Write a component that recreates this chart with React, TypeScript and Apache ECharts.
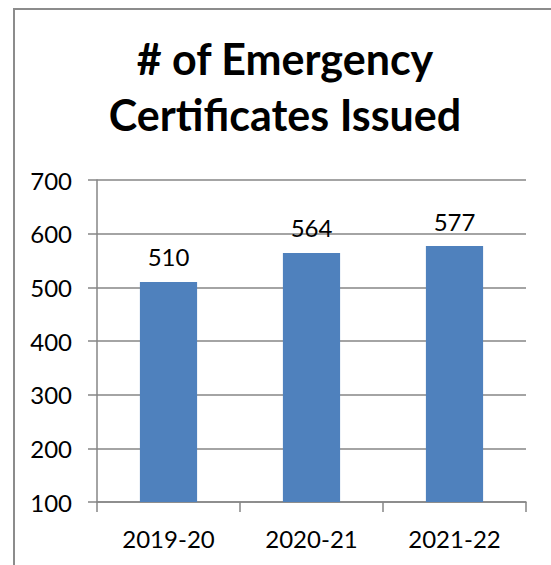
import React, { useEffect, useRef } from "react";
import * as echarts from "echarts";

const categories = ["2019-20", "2020-21", "2021-22"];
const certificates = [510, 564, 577];
const yTicks = { min: 100, max: 700, interval: 100 };
const titleText = "# of Emergency\nCertificates Issued";

export default function App() {
  const ref = useRef<HTMLDivElement>(null);
  useEffect(() => {
    document.body.style.margin = "0";
    const chart = echarts.init(ref.current!, null, { renderer: "svg" });
    chart.setOption({
      animation: false,
      backgroundColor: "#ffffff",
      textStyle: { fontFamily: "Lato" },
      title: {
        text: titleText,
        left: 285,
        top: 30,
        textAlign: "center",
        padding: 0,
        textStyle: {
          fontFamily: "Lato",
          fontWeight: "bold",
          fontSize: 43,
          lineHeight: 56,
          color: "#000000",
        },
      },
      graphic: [
        {
          type: "rect",
          shape: { x: 14, y: 9, width: 700, height: 700 },
          style: { fill: "none", stroke: "#8c8c8c", lineWidth: 2 },
          silent: true,
        },
      ],
      grid: { left: 97, right: 25, top: 180, bottom: 63 },
      xAxis: {
        type: "category",
        data: categories,
        boundaryGap: true,
        axisLine: { show: true, lineStyle: { color: "#868686", width: 1.5 } },
        axisTick: { show: true, length: 10, alignWithLabel: false, lineStyle: { color: "#868686", width: 1.5 } },
        axisLabel: { color: "#000000", fontSize: 24, fontFamily: "Lato", margin: 24 },
      },
      yAxis: {
        type: "value",
        min: yTicks.min,
        max: yTicks.max,
        interval: yTicks.interval,
        axisLine: { show: true, lineStyle: { color: "#868686", width: 1.5 } },
        axisTick: { show: true, length: 9, lineStyle: { color: "#868686", width: 1.5 } },
        splitLine: { show: true, lineStyle: { color: "#868686", width: 1.5 } },
        axisLabel: { color: "#000000", fontSize: 24, fontFamily: "Lato", margin: 25 },
      },
      series: [
        {
          type: "bar",
          data: certificates,
          barWidth: "40%",
          itemStyle: { color: "#4F81BD" },
          label: {
            show: true,
            position: "top",
            distance: 13,
            color: "#000000",
            fontSize: 24,
            fontFamily: "Lato",
          },
        },
      ],
    });
    return () => chart.dispose();
  }, []);
  return <div ref={ref} style={{ position: "absolute", left: 0, top: 0, width: 551, height: 565 }} />;
}
